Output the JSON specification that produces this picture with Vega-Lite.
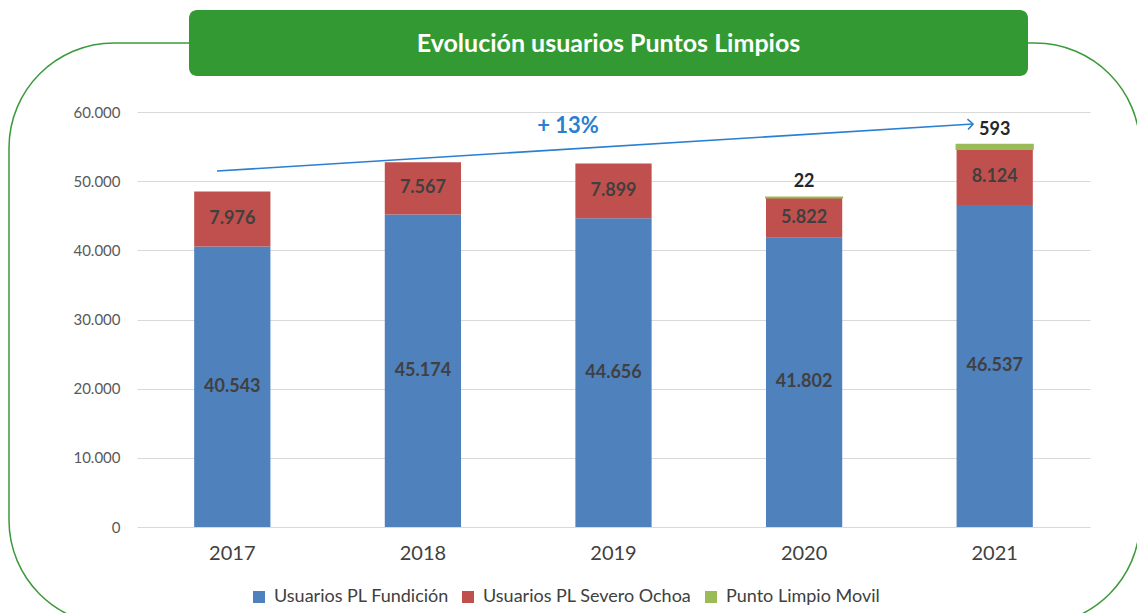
{
  "$schema": "https://vega.github.io/schema/vega-lite/v6.json",
  "width": 953,
  "height": 415,
  "autosize": {"type": "none"},
  "padding": {"left": 137, "top": 112, "right": 47, "bottom": 86},
  "background": "white",
  "config": {
    "view": {"stroke": null},
    "font": "Lato",
    "locale": {"number": {"decimal": ",", "thousands": ".", "grouping": [3], "currency": ["", " €"]}}
  },
  "datasets": {
    "users": [
      {"year": "2017", "series": "Usuarios PL Fundición", "value": 40543},
      {"year": "2017", "series": "Usuarios PL Severo Ochoa", "value": 7976},
      {"year": "2018", "series": "Usuarios PL Fundición", "value": 45174},
      {"year": "2018", "series": "Usuarios PL Severo Ochoa", "value": 7567},
      {"year": "2019", "series": "Usuarios PL Fundición", "value": 44656},
      {"year": "2019", "series": "Usuarios PL Severo Ochoa", "value": 7899},
      {"year": "2020", "series": "Usuarios PL Fundición", "value": 41802},
      {"year": "2020", "series": "Usuarios PL Severo Ochoa", "value": 5822},
      {"year": "2020", "series": "Punto Limpio Movil", "value": 22},
      {"year": "2021", "series": "Usuarios PL Fundición", "value": 46537},
      {"year": "2021", "series": "Usuarios PL Severo Ochoa", "value": 8124},
      {"year": "2021", "series": "Punto Limpio Movil", "value": 593}
    ]
  },
  "layer": [
    {
      "data": {"values": [{}]},
      "layer": [
        {
          "mark": {"type": "rect", "filled": false, "stroke": "#3C9A3C", "strokeWidth": 1.5, "cornerRadius": 105},
          "encoding": {
            "x": {"datum": -0.6716, "type": "quantitative", "scale": {"domain": [0, 5], "nice": false, "zero": false}, "axis": null},
            "x2": {"datum": 5.2623},
            "y": {"datum": 69976, "type": "quantitative", "scale": {"domain": [0, 60000], "nice": false}, "axis": null},
            "y2": {"datum": -14169}
          }
        },
        {
          "mark": {"type": "rect", "fill": "#339933", "cornerRadius": 8},
          "encoding": {
            "x": {"datum": 0.2728, "type": "quantitative", "scale": {"domain": [0, 5], "nice": false, "zero": false}, "axis": null},
            "x2": {"datum": 4.6747},
            "y": {"datum": 74747, "type": "quantitative", "scale": {"domain": [0, 60000], "nice": false}, "axis": null},
            "y2": {"datum": 65205}
          }
        },
        {
          "mark": {"type": "text", "text": "Evolución usuarios Puntos Limpios", "color": "white", "fontSize": 25, "fontWeight": "bold", "align": "center", "baseline": "middle"},
          "encoding": {
            "x": {"datum": 2.4738, "type": "quantitative", "scale": {"domain": [0, 5], "nice": false, "zero": false}, "axis": null},
            "y": {"datum": 69831, "type": "quantitative", "scale": {"domain": [0, 60000], "nice": false}, "axis": null}
          }
        },
        {
          "mark": {"type": "rule", "color": "#2a7fd0", "strokeWidth": 1.6},
          "encoding": {
            "x": {"datum": 0.4197, "type": "quantitative", "scale": {"domain": [0, 5], "nice": false, "zero": false}, "axis": null},
            "x2": {"datum": 4.3862},
            "y": {"datum": 51470, "type": "quantitative", "scale": {"domain": [0, 60000], "nice": false}, "axis": null},
            "y2": {"datum": 58265}
          }
        },
        {
          "mark": {"type": "point", "shape": "M-1,-1L0,0L-1,1", "filled": false, "stroke": "#2a7fd0", "strokeWidth": 1.6, "size": 110, "angle": 356.5, "opacity": 1},
          "encoding": {
            "x": {"datum": 4.3862, "type": "quantitative", "scale": {"domain": [0, 5], "nice": false, "zero": false}, "axis": null},
            "y": {"datum": 58265, "type": "quantitative", "scale": {"domain": [0, 60000], "nice": false}, "axis": null}
          }
        },
        {
          "mark": {"type": "text", "text": "+ 13%", "color": "#2a7fd0", "fontSize": 22, "fontWeight": "bold", "align": "center", "baseline": "middle"},
          "encoding": {
            "x": {"datum": 2.2613, "type": "quantitative", "scale": {"domain": [0, 5], "nice": false, "zero": false}, "axis": null},
            "y": {"datum": 57976, "type": "quantitative", "scale": {"domain": [0, 60000], "nice": false}, "axis": null}
          }
        }
      ]
    },
    {
      "data": {"name": "users"},
      "transform": [
        {"calculate": "indexof(['Usuarios PL Fundición','Usuarios PL Severo Ochoa','Punto Limpio Movil'], datum.series)", "as": "k"},
        {"stack": "value", "groupby": ["year"], "sort": [{"field": "k", "order": "ascending"}], "as": ["v0", "v1"]},
        {"calculate": "(datum.v0 + datum.v1) / 2", "as": "vm"}
      ],
      "encoding": {
        "x": {
          "field": "year", "type": "nominal",
          "scale": {"paddingInner": 0.6, "paddingOuter": 0.3},
          "axis": {"title": null, "domain": false, "ticks": false, "labelPadding": 16, "labelFontSize": 20, "labelColor": "#404040", "labelAngle": 0, "grid": false}
        }
      },
      "layer": [
        {
          "mark": {"type": "bar", "strokeWidth": 2},
          "encoding": {
            "y": {"field": "v1", "type": "quantitative", "scale": {"domain": [0, 60000], "nice": false},
              "axis": {"title": null, "values": [0, 10000, 20000, 30000, 40000, 50000, 60000], "format": ",d", "domain": false, "ticks": false, "labelPadding": 17, "labelFontSize": 15, "labelColor": "#595959", "grid": true, "gridColor": "#D9D9D9", "gridWidth": 1}},
            "y2": {"field": "v0"},
            "color": {
              "field": "series", "type": "nominal",
              "scale": {"domain": ["Usuarios PL Fundición", "Usuarios PL Severo Ochoa", "Punto Limpio Movil"], "range": ["#4F81BD", "#C0504D", "#9BBB59"]},
              "legend": {"orient": "none", "legendX": 113, "legendY": 476, "direction": "horizontal", "title": null, "symbolType": "square", "symbolSize": 144, "symbolStrokeWidth": 0, "labelFontSize": 18, "labelColor": "#404040", "labelLimit": 0, "columnSpacing": 34, "labelOffset": 6}
            },
            "stroke": {"condition": {"test": "datum.series === 'Punto Limpio Movil'", "value": "#9BBB59"}, "value": null}
          }
        },
        {
          "transform": [{"filter": "datum.series !== 'Punto Limpio Movil'"}],
          "mark": {"type": "text", "fontSize": 18, "fontWeight": "bold", "color": "#404040", "baseline": "middle"},
          "encoding": {
            "y": {"field": "vm", "type": "quantitative", "scale": {"domain": [0, 60000], "nice": false},
              "axis": {"title": null, "values": [0, 10000, 20000, 30000, 40000, 50000, 60000], "format": ",d", "domain": false, "ticks": false, "labelPadding": 17, "labelFontSize": 15, "labelColor": "#595959", "grid": true, "gridColor": "#D9D9D9", "gridWidth": 1}},
            "text": {"field": "value", "type": "quantitative", "format": ",d"}
          }
        },
        {
          "transform": [{"filter": "datum.series === 'Punto Limpio Movil'"}],
          "mark": {"type": "text", "fontSize": 18, "fontWeight": "bold", "color": "#262626", "baseline": "middle", "dy": -15},
          "encoding": {
            "y": {"field": "v1", "type": "quantitative", "scale": {"domain": [0, 60000], "nice": false},
              "axis": {"title": null, "values": [0, 10000, 20000, 30000, 40000, 50000, 60000], "format": ",d", "domain": false, "ticks": false, "labelPadding": 17, "labelFontSize": 15, "labelColor": "#595959", "grid": true, "gridColor": "#D9D9D9", "gridWidth": 1}},
            "text": {"field": "value", "type": "quantitative", "format": ",d"}
          }
        }
      ]
    }
  ],
  "resolve": {"scale": {"x": "independent", "y": "independent"}}
}
